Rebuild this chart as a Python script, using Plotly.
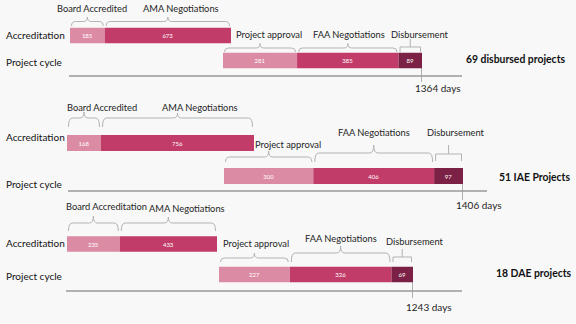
import plotly.graph_objects as go

# ---------------- data ----------------
row_names = ["Accreditation", "Project cycle"]
panel_titles = ["69 disbursed projects", "51 IAE Projects", "18 DAE projects"]
acc_stage_labels = [
    ["Board Accredited", "AMA Negotiations"],
    ["Board Accredited", "AMA Negotiations"],
    ["Board Accreditation", "AMA Negotiations"],
]
proj_stage_labels = ["Project approval", "FAA Negotiations", "Disbursement"]
acc_days = [[185, 673], [168, 756], [235, 433]]
proj_days = [[281, 385, 89], [300, 406, 97], [227, 326, 69]]
total_days = [1364, 1406, 1243]

# ---------------- styling / layout (pixels) ----------------
W, H = 576, 324
acc_colors = ["#dc8ba4", "#c23c6a"]
proj_colors = ["#dc8ba4", "#c23c6a", "#7b2146"]
FONT = "Lato"
BG = "#f8f8f8"
BRACE_COL = "#b3b3b3"

panels = [
    dict(acc_px=(70, 231), proj_px=(223, 422), yc=(35.5, 60.5), barw=0.62,
         acc_brace=[(17, 21.5, 26), (17, 21.5, 26)],
         proj_brace=[(43.5, 48, 52), (43.5, 48, 52), (39, 47, 52)],
         acc_lab_y=[8, 8], acc_lab_dx=[5, 13],
         proj_lab_y=[34, 34, 34], proj_lab_dx=[9, 1, 10],
         row_lab_y=[35, 62], axis_y=76, axis_x=(69, 462),
         tick_y=(68, 82), total_y=88, title_y=59, title_x=567),
    dict(acc_px=(67, 254), proj_px=(224, 463), yc=(143, 176), barw=0.485,
         acc_brace=[(112, 118, 127), (113, 118, 127)],
         proj_brace=[(151, 157, 162), (145, 153, 162), (145, 154, 161)],
         acc_lab_y=[107, 107], acc_lab_dx=[18, 22],
         proj_lab_y=[144, 132, 132], proj_lab_dx=[19, 0, 7],
         row_lab_y=[137, 184], axis_y=191, axis_x=(68, 487),
         tick_y=(184, 200), total_y=205, title_y=177, title_x=572),
    dict(acc_px=(67, 217), proj_px=(219, 413), yc=(244, 274.5), barw=0.51,
         acc_brace=[(216, 223, 231), (217, 223, 231)],
         proj_brace=[(253, 258, 262), (246, 253, 262), (249, 257, 262)],
         acc_lab_y=[207, 208], acc_lab_dx=[13, 19],
         proj_lab_y=[243, 238, 241], proj_lab_dx=[2, 0, 13],
         row_lab_y=[243, 276], axis_y=291, axis_x=(66, 462),
         tick_y=(282, 298), total_y=307, title_y=273, title_x=574),
]

STAGE_SIZE = 9.3
ROW_SIZE = 10
DAYS_SIZE = 10
TITLE_SIZE = 10.4


def px(x):
    return x / W


def py(y):
    return 1 - y / H


fig = go.Figure()
shapes = []
annotations = []
layout_axes = {}


def axname(kind, i):
    return kind if i == 1 else f"{kind}{i}"


def brace_path(x0, x1, yt, ym, yb, r, square=False):
    xc = (x0 + x1) / 2
    if square:
        return (f"M {x0},{yb} L {x0},{ym} L {x1},{ym} L {x1},{yb} "
                f"M {xc},{ym} L {xc},{yt}")
    return (f"M {x0},{yb} Q {x0},{ym} {x0 + r},{ym} L {xc - r},{ym} "
            f"Q {xc},{ym} {xc},{yt} Q {xc},{ym} {xc + r},{ym} "
            f"L {x1 - r},{ym} Q {x1},{ym} {x1},{yb}")


for p, spec in enumerate(panels):
    yi = p + 1
    xa_acc = 2 * p + 1
    xa_proj = 2 * p + 2
    yref = axname("y", yi)
    xrefs = [axname("x", xa_acc), axname("x", xa_proj)]
    c0, c1 = spec["yc"]
    step = c1 - c0
    top = c0 - 0.5 * step
    bot = c1 + 0.5 * step
    layout_axes[axname("yaxis", yi)] = dict(
        domain=[py(bot), py(top)], range=[1.5, -0.5], type="category",
        categoryarray=row_names, categoryorder="array",
        visible=False, anchor="free", position=0, fixedrange=True)

    for k, (vals, colors, pxr, labels, braces, laby, labdx) in enumerate([
        (acc_days[p], acc_colors, spec["acc_px"], acc_stage_labels[p],
         spec["acc_brace"], spec["acc_lab_y"], spec["acc_lab_dx"]),
        (proj_days[p], proj_colors, spec["proj_px"], proj_stage_labels,
         spec["proj_brace"], spec["proj_lab_y"], spec["proj_lab_dx"]),
    ]):
        tot = sum(vals)
        xa = xa_acc if k == 0 else xa_proj
        layout_axes[axname("xaxis", xa)] = dict(
            domain=[px(pxr[0]), px(pxr[1])], range=[0, tot], visible=False,
            anchor=yref, fixedrange=True)
        xref = xrefs[k]
        dpp = tot / (pxr[1] - pxr[0])  # days per pixel
        base = 0
        for j, v in enumerate(vals):
            fig.add_trace(go.Bar(
                y=[row_names[k]], x=[v], base=[base], orientation="h",
                xaxis=xref, yaxis=yref, width=spec["barw"],
                marker=dict(color=colors[j], line=dict(width=0)),
                text=[str(v)], textposition="inside",
                insidetextanchor="middle", constraintext="none",
                textfont=dict(color="white", size=6, family=FONT),
                hoverinfo="skip", showlegend=False))
            yt, ym, yb = braces[j]
            square = (k == 1 and j == len(vals) - 1)
            shapes.append(dict(
                type="path", xref=xref, yref="paper",
                path=brace_path(base + 1.5 * dpp, base + v - 1.5 * dpp,
                                py(yt), py(ym), py(yb), 4 * dpp, square),
                line=dict(color=BRACE_COL, width=1)))
            annotations.append(dict(
                x=base + v / 2, xref=xref, xshift=labdx[j],
                y=py(laby[j]), yref="paper", text=labels[j],
                showarrow=False, xanchor="center", yanchor="middle",
                font=dict(family=FONT, size=STAGE_SIZE, color="#1e1e1e")))
            base += v
        if k == 1:
            # end tick + total days
            shapes.append(dict(type="line", xref=xref, yref="paper",
                               x0=tot, x1=tot, y0=py(spec["tick_y"][0]),
                               y1=py(spec["tick_y"][1]),
                               line=dict(color="#666", width=1)))
            annotations.append(dict(
                x=tot, xref=xref, xshift=-9, y=py(spec["total_y"]),
                yref="paper", text=f"{total_days[p]} days",
                showarrow=False, xanchor="left", yanchor="middle",
                font=dict(family=FONT, size=DAYS_SIZE, color="#1e1e1e")))

    # row labels
    for k, name in enumerate(row_names):
        annotations.append(dict(
            x=px(4), xref="paper", y=py(spec["row_lab_y"][k]), yref="paper",
            text=name, showarrow=False, xanchor="left", yanchor="middle",
            font=dict(family=FONT, size=ROW_SIZE, color="#111")))
    # baseline
    shapes.append(dict(type="line", xref="paper", yref="paper",
                       x0=px(spec["axis_x"][0]), x1=px(spec["axis_x"][1]),
                       y0=py(spec["axis_y"]), y1=py(spec["axis_y"]),
                       line=dict(color="#9a9a9a", width=1.3)))
    # panel title
    annotations.append(dict(
        x=px(spec["title_x"]), xref="paper", y=py(spec["title_y"]),
        yref="paper", text=f"<b>{panel_titles[p]}</b>", showarrow=False,
        xanchor="right", yanchor="middle",
        font=dict(family=FONT, size=TITLE_SIZE, color="#111")))

fig.update_layout(
    width=W, height=H, margin=dict(l=0, r=0, t=0, b=0),
    paper_bgcolor=BG, plot_bgcolor="rgba(0,0,0,0)",
    barmode="overlay", shapes=shapes, annotations=annotations,
    showlegend=False, font=dict(family=FONT),
    **layout_axes)

fig.write_html("out.html", config={"displayModeBar": False})
